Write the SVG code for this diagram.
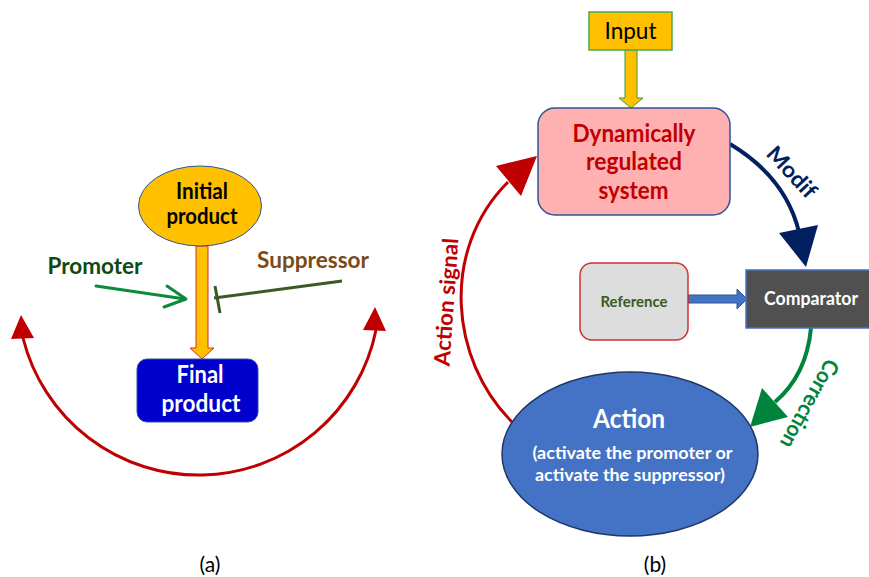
<svg xmlns="http://www.w3.org/2000/svg" width="869" height="577" viewBox="0 0 869 577">
<style>
text{font-family:Lato,"Open Sans","Liberation Sans",sans-serif;text-anchor:middle}
.b{font-weight:bold}
.red{stroke:#C00000;stroke-width:3;fill:none}
</style>
<rect width="869" height="577" fill="#fff"/>
<g id="connectors">
  <path class="red" d="M23,338 A181,181 0 0 0 376,330"/>
  <polygon points="21,315 11,339 34,338" fill="#C00000"/>
  <polygon points="375,307 363,330 386,331" fill="#C00000"/>
  <polygon points="196,246 208,246 208,348 214,348 202,359 190,348 196,348" fill="#FFC000" stroke="#D0302A" stroke-width="1"/>
  <g stroke="#0B8A3C" stroke-width="3" fill="none" stroke-linecap="round" stroke-linejoin="round">
    <path d="M96,286 L185,299"/>
    <path d="M167,286 L186,299 L164,307"/>
  </g>
  <g stroke="#3A5A24" stroke-width="3" fill="none">
    <path d="M342,281 L214,298"/>
    <path d="M215,286 L220,313"/>
  </g>
  <polygon points="625,50 637,50 637,98 643,98 631,108 619,98 625,98" fill="#FFC000" stroke="#3A9A3A" stroke-width="1"/>
  <polygon points="688,295 737,295 737,289 747,299 737,309 737,303 688,303" fill="#4472C4" stroke="#2F5597" stroke-width="1"/>
  <path d="M730,144 C765,165 790,195 799,232" stroke="#002060" stroke-width="4" fill="none"/>
  <polygon points="779,233 818,225 806,267" fill="#002060"/>
  <path d="M811,328 C808,360 795,385 775,402" stroke="#00843C" stroke-width="4" fill="none"/>
  <polygon points="762,388 788,417 750,427" fill="#00843C"/>
  <path class="red" d="M512,422 C450,360 440,250 508,182"/>
  <polygon points="496,166 521,196 537,156" fill="#C00000"/>
</g>
<g id="initial-product">
  <ellipse cx="200" cy="206" rx="61.5" ry="40" fill="#FFC000" stroke="#2F5597" stroke-width="1"/>
  <text x="202" y="199" class="b" font-size="22" fill="#000" textLength="52" lengthAdjust="spacingAndGlyphs">Initial</text>
  <text x="202" y="224" class="b" font-size="22" fill="#000" textLength="71" lengthAdjust="spacingAndGlyphs">product</text>
</g>
<g id="final-product">
  <rect x="137" y="359" width="121" height="63" rx="10" fill="#0000CC" stroke="#2F5597" stroke-width="1"/>
  <text x="200" y="383" class="b" font-size="24" fill="#fff" textLength="47" lengthAdjust="spacingAndGlyphs">Final</text>
  <text x="201" y="412" class="b" font-size="24" fill="#fff" textLength="79" lengthAdjust="spacingAndGlyphs">product</text>
</g>
<g id="promoter">
  <text x="95" y="274" class="b" font-size="23" fill="#0E4A10" textLength="95" lengthAdjust="spacingAndGlyphs">Promoter</text>
</g>
<g id="suppressor">
  <text x="313" y="268" class="b" font-size="23" fill="#7B4A17" textLength="112" lengthAdjust="spacingAndGlyphs">Suppressor</text>
</g>
<g id="label-a"><text x="210" y="572" font-size="21" fill="#000">(a)</text></g>
<g id="input">
  <rect x="589" y="12" width="83" height="38" fill="#FFC000" stroke="#4EA84E" stroke-width="1.5"/>
  <text x="630.5" y="39" font-size="23" fill="#000" textLength="52" lengthAdjust="spacingAndGlyphs">Input</text>
</g>
<g id="system">
  <rect x="538" y="108" width="192" height="107" rx="17" fill="#FFB0B0" stroke="#2F5597" stroke-width="1.5"/>
  <text x="634" y="141.5" class="b" font-size="24" fill="#C00000" textLength="123" lengthAdjust="spacingAndGlyphs">Dynamically</text>
  <text x="634" y="170" class="b" font-size="24" fill="#C00000" textLength="96" lengthAdjust="spacingAndGlyphs">regulated</text>
  <text x="633.5" y="199" class="b" font-size="24" fill="#C00000" textLength="70" lengthAdjust="spacingAndGlyphs">system</text>
</g>
<g id="modif-label">
  <text transform="translate(792,172) rotate(47)" y="8" class="b" font-size="22" fill="#002060" textLength="62" lengthAdjust="spacingAndGlyphs">Modif</text>
</g>
<g id="reference">
  <rect x="580" y="263" width="108" height="77" rx="12" fill="#DDDDDD" stroke="#D03030" stroke-width="1.5"/>
  <text x="634" y="307" class="b" font-size="15" fill="#3A5A24" textLength="67" lengthAdjust="spacingAndGlyphs">Reference</text>
</g>
<g id="comparator">
  <rect x="746" y="270" width="126" height="58" fill="#505050" stroke="#4472C4" stroke-width="1.5"/>
  <text x="811" y="305" class="b" font-size="18" fill="#fff" textLength="94" lengthAdjust="spacingAndGlyphs">Comparator</text>
</g>
<g id="correction-label">
  <text transform="translate(810,404) rotate(119)" y="8" class="b" font-size="22" fill="#00843C" textLength="98" lengthAdjust="spacingAndGlyphs">Correction</text>
</g>
<g id="action">
  <ellipse cx="630" cy="454" rx="128" ry="82" fill="#4472C4" stroke="#1F3864" stroke-width="1.5"/>
  <text x="629" y="427.5" class="b" font-size="27" fill="#fff" textLength="72" lengthAdjust="spacingAndGlyphs">Action</text>
  <text x="632.5" y="459" class="b" font-size="17" fill="#fff" textLength="200" lengthAdjust="spacingAndGlyphs">(activate the promoter or</text>
  <text x="630" y="481" class="b" font-size="17" fill="#fff" textLength="190" lengthAdjust="spacingAndGlyphs">activate the suppressor)</text>
</g>
<g id="action-signal-label">
  <text transform="translate(446,302) rotate(-86)" y="8" class="b" font-size="22" fill="#C00000" textLength="128" lengthAdjust="spacingAndGlyphs">Action signal</text>
</g>
<g id="label-b"><text x="655" y="572" font-size="21" fill="#000">(b)</text></g>
</svg>
